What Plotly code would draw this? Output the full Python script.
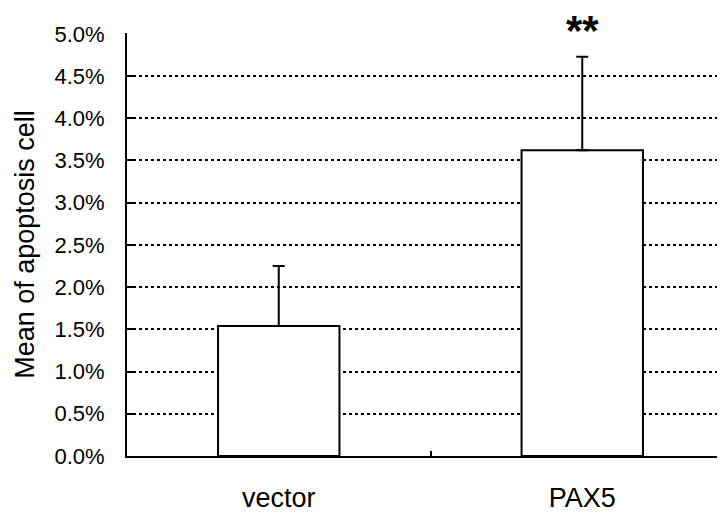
import plotly.graph_objects as go

categories = ["vector", "PAX5"]
means = [0.0154, 0.0362]
errors = [0.0071, 0.0111]
y_ticks = [0.0, 0.005, 0.01, 0.015, 0.02, 0.025, 0.03, 0.035, 0.04, 0.045, 0.05]
significance = ["", "**"]

FONT = "Liberation Sans, Arial, sans-serif"

fig = go.Figure()
fig.add_trace(go.Bar(
    x=categories, y=means, width=0.4,
    marker=dict(color="white", line=dict(color="black", width=2)),
    error_y=dict(type="data", array=errors, arrayminus=[0, 0], symmetric=False,
                 color="black", thickness=2, width=6, visible=True),
    showlegend=False,
))

for c, s in zip(categories, significance):
    if s:
        fig.add_annotation(x=c, xref="x", y=1.066, yref="paper", text="<b>" + s + "</b>",
                           showarrow=False,
                           font=dict(family=FONT, size=42, color="black"),
                           yanchor="top")

fig.update_layout(
    width=725, height=514,
    margin=dict(l=119, r=9, t=25, b=64),
    plot_bgcolor="white", paper_bgcolor="white",
    font=dict(family=FONT, color="black"),
)
fig.update_xaxes(
    type="category", range=[-0.5, 1.467],
    showline=True, linecolor="black", linewidth=2,
    ticks="inside", ticklen=5, tickwidth=1.5, tickcolor="black",
    tickson="boundaries", showgrid=False,
    tickfont=dict(family=FONT, size=27, color="black"),
    ticklabelstandoff=17,
)
fig.update_yaxes(
    range=[0, 0.0501], tickvals=y_ticks, tickformat=".1%",
    showline=True, linecolor="black", linewidth=2,
    ticks="inside", ticklen=8, tickwidth=1.5, tickcolor="black",
    showgrid=True, gridcolor="black", gridwidth=1.5, griddash="dot",
    zeroline=False,
    tickfont=dict(family=FONT, size=22, color="black"),
    ticklabelstandoff=16,
    title=dict(text="Mean of apoptosis cell", font=dict(family=FONT, size=27, color="black"),
               standoff=12),
)

fig.write_html("out.html")
